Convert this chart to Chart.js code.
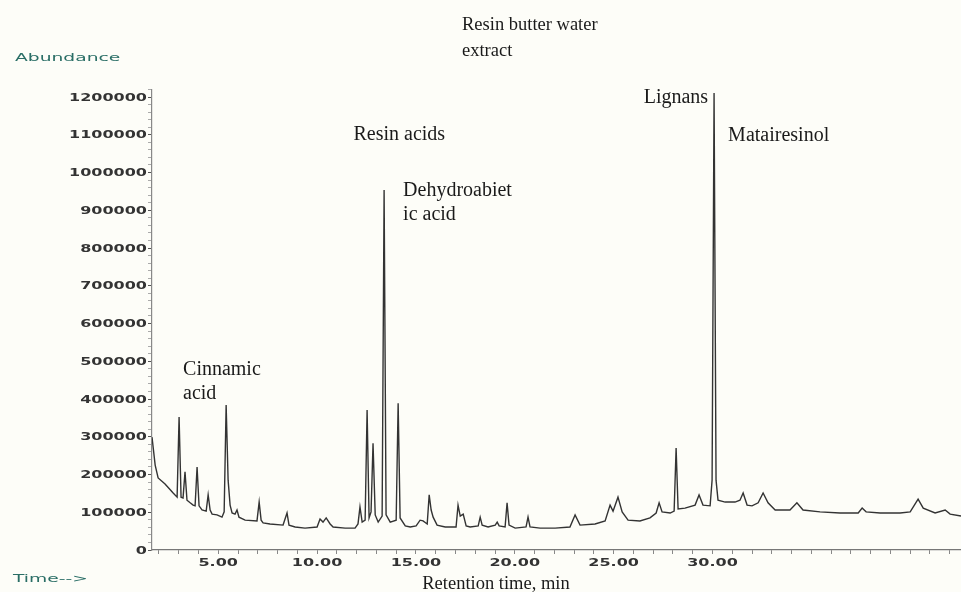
<!DOCTYPE html>
<html>
<head>
<meta charset="utf-8">
<script src="https://cdn.jsdelivr.net/npm/chart.js@4"></script>
<style>
  html, body { margin: 0; padding: 0; background: #fdfdf8; }
  canvas { display: block; }
</style>
</head>
<body>
<canvas id="chart" width="961" height="592"></canvas>
<script>
// Retention time (min) and abundance
const times = [
  1.65, 1.81, 1.96, 2.31, 2.72, 2.92, 3.02, 3.12, 3.22, 3.32, 3.42, 3.58, 3.73, 3.83, 3.93, 4.03,
  4.18, 4.39, 4.49, 4.59, 4.69, 4.94, 5.19, 5.30, 5.40, 5.50, 5.60, 5.70, 5.85, 5.95, 6.05, 6.36,
  6.96, 7.07, 7.17, 7.27, 7.62, 8.28, 8.48, 8.58, 8.89, 9.39, 10.00, 10.15, 10.30, 10.46, 10.66, 10.81,
  11.42, 11.92, 12.07, 12.17, 12.28, 12.43, 12.53, 12.63, 12.73, 12.83, 12.94, 13.09, 13.29, 13.39, 13.49, 13.70,
  14.00, 14.10, 14.20, 14.46, 14.71, 15.01, 15.21, 15.36, 15.57, 15.67, 15.77, 15.87, 16.07, 16.48, 17.03, 17.13,
  17.24, 17.39, 17.54, 17.74, 18.15, 18.25, 18.35, 18.65, 19.01, 19.11, 19.21, 19.51, 19.61, 19.71, 20.02, 20.57,
  20.67, 20.77, 21.28, 22.04, 22.79, 23.05, 23.30, 24.06, 24.57, 24.82, 24.97, 25.22, 25.43, 25.73, 26.33, 26.84,
  27.15, 27.30, 27.45, 27.86, 28.06, 28.16, 28.26, 28.61, 29.12, 29.32, 29.52, 29.88, 29.98, 30.08, 30.18, 30.28,
  30.64, 31.14, 31.39, 31.55, 31.75, 32.00, 32.31, 32.56, 32.81, 33.17, 33.92, 34.27, 34.58, 35.44, 36.45, 37.37,
  37.57, 37.77, 38.48, 39.49, 40.00, 40.40, 40.66, 41.26, 41.77, 42.02, 42.57
];
const abundance = [
  299000, 225000, 191000, 175000, 151000, 140000, 352000, 140000, 138000, 207000, 132000, 125000, 119000, 117000, 220000, 117000,
  106000, 103000, 146000, 106000, 95000, 93000, 87000, 101000, 384000, 185000, 119000, 98000, 95000, 106000, 87000, 79000,
  77000, 127000, 79000, 72000, 69000, 66000, 98000, 66000, 61000, 58000, 61000, 82000, 74000, 85000, 69000, 61000,
  58000, 58000, 69000, 114000, 74000, 79000, 371000, 85000, 101000, 283000, 93000, 74000, 90000, 954000, 93000, 74000,
  79000, 389000, 85000, 64000, 61000, 64000, 79000, 77000, 69000, 146000, 106000, 87000, 66000, 61000, 61000, 119000,
  90000, 95000, 64000, 61000, 64000, 87000, 66000, 61000, 66000, 74000, 64000, 61000, 125000, 66000, 58000, 61000,
  87000, 61000, 58000, 58000, 61000, 93000, 66000, 69000, 77000, 119000, 103000, 140000, 101000, 79000, 77000, 85000,
  98000, 125000, 101000, 98000, 103000, 270000, 109000, 111000, 119000, 146000, 119000, 117000, 185000, 1211000, 185000, 132000,
  127000, 127000, 132000, 151000, 119000, 117000, 125000, 151000, 125000, 106000, 106000, 125000, 106000, 101000, 98000, 98000,
  111000, 101000, 98000, 98000, 101000, 135000, 111000, 98000, 106000, 95000, 90000
];

// Labelled ticks
const yTickLabels = [0, 100000, 200000, 300000, 400000, 500000, 600000, 700000, 800000, 900000, 1000000, 1100000, 1200000];
const xTickLabels = [5, 10, 15, 20, 25, 30];

// Peak annotations, anchored in data coordinates
const notes = [
  { lines: ['Cinnamic', 'acid'], t: 3.22, a: 464000, align: 'left' },
  { lines: ['Resin acids'], t: 11.84, a: 1086000, align: 'left' },
  { lines: ['Dehydroabiet', 'ic acid'], t: 14.35, a: 938000, align: 'left' },
  { lines: ['Lignans'], t: 29.78, a: 1184000, align: 'right' },
  { lines: ['Matairesinol'], t: 30.79, a: 1083000, align: 'left' },
];

const points = times.map((t, i) => ({ x: t, y: abundance[i] }));

// Wide, stretched sans text like the instrument printout
function wideText(ctx, text, x, y, align, sx) {
  ctx.save();
  ctx.translate(x, y);
  ctx.scale(sx, 1);
  ctx.textAlign = align;
  ctx.fillText(text, 0, 0);
  ctx.restore();
}

const textPlugin = {
  id: 'texts',
  beforeDraw(chart) {
    const ctx = chart.ctx;
    ctx.save();
    ctx.fillStyle = '#fdfdf8';
    ctx.fillRect(0, 0, chart.width, chart.height);
    ctx.restore();
  },
  afterDraw(chart) {
    const ctx = chart.ctx;
    const xs = chart.scales.x;
    const ys = chart.scales.y;
    ctx.save();

    // tick labels
    ctx.fillStyle = '#333';
    ctx.font = 'bold 10px "DejaVu Sans"';
    ctx.textBaseline = 'middle';
    yTickLabels.forEach(v => {
      wideText(ctx, String(v), ys.right - 5, ys.getPixelForValue(v) + 1, 'right', 1.6);
    });
    ctx.textBaseline = 'alphabetic';
    xTickLabels.forEach(v => {
      wideText(ctx, v.toFixed(2), xs.getPixelForValue(v), 566, 'center', 1.6);
    });

    // instrument axis names
    ctx.fillStyle = '#2a6e66';
    ctx.font = '11px "DejaVu Sans"';
    wideText(ctx, 'Abundance', 15, 61, 'left', 1.7);
    wideText(ctx, 'Time-->', 13, 582, 'left', 1.7);

    // title and axis title
    ctx.fillStyle = '#1a1a1a';
    ctx.font = '18.5px "Liberation Serif"';
    ctx.textAlign = 'left';
    ctx.fillText('Resin butter water', 462, 30);
    ctx.fillText('extract', 462, 56);
    ctx.textAlign = 'center';
    ctx.fillText('Retention time, min', 496, 589);

    // peak notes
    ctx.font = '20px "Liberation Serif"';
    notes.forEach(n => {
      ctx.textAlign = n.align;
      const x = xs.getPixelForValue(n.t);
      const y = ys.getPixelForValue(n.a);
      n.lines.forEach((line, i) => ctx.fillText(line, x, y + i * 24));
    });

    ctx.restore();
  }
};

new Chart(document.getElementById('chart'), {
  type: 'line',
  data: {
    datasets: [{
      data: points,
      borderColor: '#333',
      borderWidth: 1.4,
      pointRadius: 0,
      tension: 0,
      fill: false,
    }],
  },
  options: {
    responsive: false,
    animation: false,
    layout: { padding: { top: 89.5, right: 0, bottom: 0, left: 0 } },
    plugins: {
      legend: { display: false },
      tooltip: { enabled: false },
    },
    scales: {
      x: {
        type: 'linear',
        min: 1.65,
        max: 42.57,
        ticks: { stepSize: 1, autoSkip: false, includeBounds: false, maxRotation: 0, callback: () => '' },
        grid: { drawOnChartArea: false, tickLength: 4, color: '#888' },
        border: { color: '#777', width: 1.2 },
        afterFit: (scale) => { scale.height = 42; },
      },
      y: {
        min: 0,
        max: 1220000,
        ticks: { stepSize: 20000, autoSkip: false, includeBounds: false, callback: () => '' },
        grid: {
          drawOnChartArea: false,
          tickLength: 4,
          color: (c) => (c.tick && c.tick.value % 100000 === 0 ? '#555' : '#aaa'),
        },
        border: { color: '#888', width: 1.2 },
        afterFit: (scale) => { scale.width = 152; },
      },
    },
  },
  plugins: [textPlugin],
});
</script>
</body>
</html>
